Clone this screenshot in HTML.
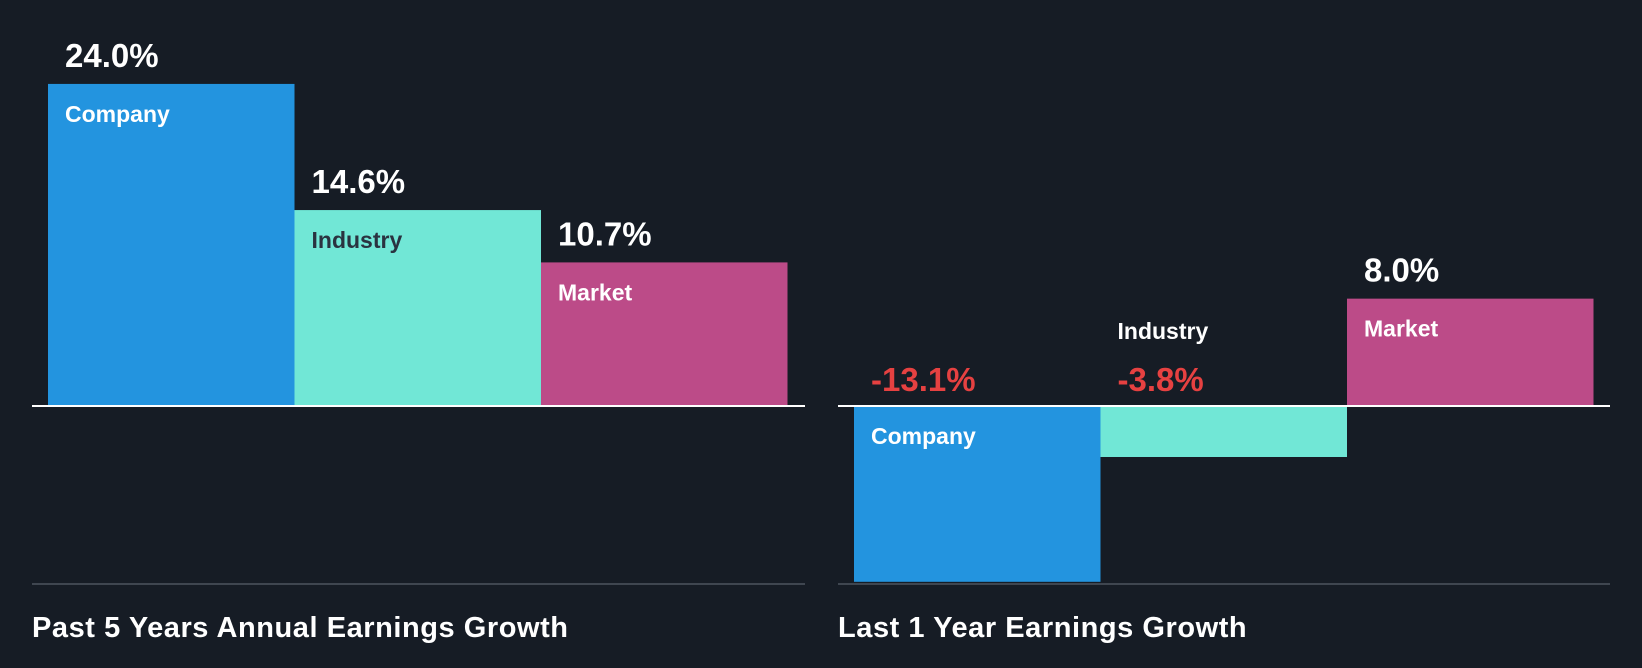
<!DOCTYPE html>
<html><head><meta charset="utf-8"><style>
html,body{margin:0;padding:0;background:#161c25;}
svg{display:block;font-family:"Liberation Sans",sans-serif;font-weight:bold;}
</style></head><body>
<svg id="c" width="1642" height="668" viewBox="0 0 1642 668">
<rect width="1642" height="668" fill="#161c25"/>
</svg>
<script>
const categories = ["Company","Industry","Market"];
const past5Values = [24.0, 14.6, 10.7];
const last1Values = [-13.1, -3.8, 8.0];
const valueLabels5 = ["24.0%","14.6%","10.7%"];
const valueLabels1 = ["-13.1%","-3.8%","8.0%"];
const colors = ["#2394df","#71e7d6","#bc4b88"];
const labelColors = ["#ffffff","#2a3340","#ffffff"];
const ns="http://www.w3.org/2000/svg";
const svg=document.getElementById('c');
const zeroY=406, scale=13.42;
function y(v){return zeroY - v*scale;}
function mk(tag,attrs,parent){const e=document.createElementNS(ns,tag);for(const k in attrs)e.setAttribute(k,attrs[k]);(parent||svg).appendChild(e);return e;}
function panel(x0,x1,barX,vals,labels,title,key){
  const g=mk('g',{});
  
  
  const bw=246.5;
  vals.forEach((v,i)=>{
    const bx=barX+i*bw;
    const top=Math.min(y(v),zeroY), h=Math.abs(y(v)-zeroY);
    const r=mk('rect',{x:bx,y:top,width:bw,height:h,fill:colors[i]},g);
    
    
    let vY,lY,lCol=labelColors[i];
    if(v>=0){vY=y(v)-17;lY=y(v)+38;}
    else if(h>60){vY=zeroY-15;lY=zeroY+38;}
    else{vY=zeroY-15;lY=zeroY-67;lCol="#ffffff";}
    const vt=mk('text',{x:bx+17,y:vY,fill:v<0?"#e64141":"#ffffff","font-size":33},g);
    vt.textContent=labels[i];
    
    
    const lt=mk('text',{x:bx+17,y:lY,fill:lCol,"font-size":23},g);
    lt.textContent=categories[i];
    
    
  });
  const zl=mk('rect',{x:x0,y:zeroY-1,width:x1-x0,height:2,fill:"#ffffff"},g);
  
  
  const bl=mk('rect',{x:x0,y:583,width:x1-x0,height:2,fill:"#3f4650"},g);
  
  
  const t=mk('text',{x:x0,y:637,fill:"#ffffff","font-size":29,"letter-spacing":0.55},g);
  t.textContent=title;
  
  
}
panel(32,805,48,past5Values,valueLabels5,"Past 5 Years Annual Earnings Growth","past-5-years");
panel(838,1610,854,last1Values,valueLabels1,"Last 1 Year Earnings Growth","last-1-year");
</script>
</body></html>
